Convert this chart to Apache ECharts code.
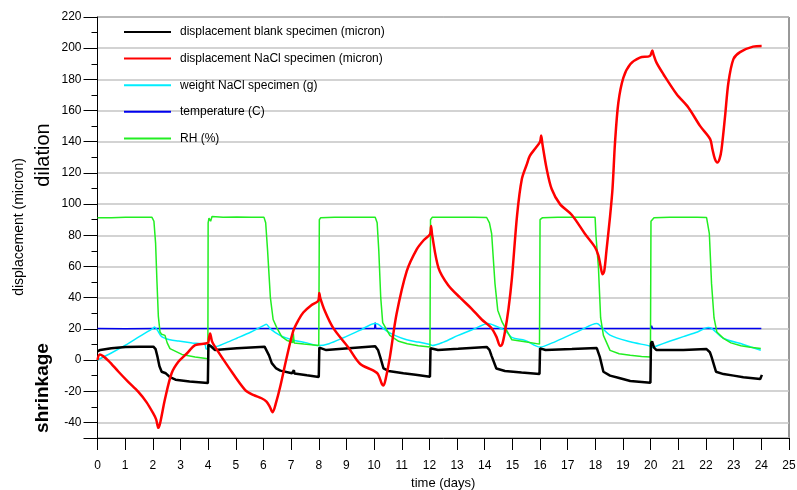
<!DOCTYPE html>
<html><head><meta charset="utf-8">
<script src="https://cdn.jsdelivr.net/npm/echarts@6/dist/echarts.min.js"></script>
<style>html,body{margin:0;padding:0;background:#fff}#c{width:797px;height:490px}</style>
</head><body><div id="c"></div>
<script>
const seriesNames = ['displacement blank specimen (micron)','displacement NaCl specimen (micron)','weight NaCl specimen (g)','temperature (C)','RH (%)'];
const xTitle = 'time (days)';
const yTitle = 'displacement (micron)';

const blankDisp = [[0,5.5],[0.1,6.5],[0.5,7.5],[1.01,8.3],[1.51,8.5],[2.02,8.6],[2.1,7],[2.17,2],[2.24,-4],[2.32,-7.5],[2.47,-8.5],[2.62,-11],[2.82,-12.6],[3.33,-13.8],[3.99,-14.8],[4.01,10],[4.09,9],[4.24,6.5],[5.04,7.5],[6.04,8.6],[6.11,7.4],[6.2,3],[6.3,-2],[6.46,-5.4],[6.61,-6.8],[7.03,-8.5],[7.08,-8.4],[7.1,-6.5],[7.12,-8.6],[7.57,-9.8],[8.0,-10.9],[8.02,8],[8.27,6.4],[9.08,7.5],[10.04,8.8],[10.14,6.5],[10.22,2],[10.34,-5.4],[10.52,-7],[11.06,-8.5],[11.5,-9.5],[12.02,-10.7],[12.04,7.5],[12.31,6.4],[13.04,7.2],[14.07,8.4],[14.17,6.5],[14.24,3],[14.42,-5.4],[14.73,-7],[15.33,-8],[15.98,-8.9],[16.0,7.5],[16.2,6.4],[17.15,7],[18.05,7.7],[18.11,6.5],[18.16,2],[18.29,-7.5],[18.53,-10],[18.86,-11.5],[19.26,-13.4],[19.99,-14.5],[20.01,10.7],[20.05,12],[20.12,8],[20.21,6.4],[21.18,6.4],[22.02,7],[22.14,5],[22.2,2],[22.36,-7.5],[22.63,-9],[23.0,-10],[23.35,-11],[23.96,-12.2],[23.99,-12],[24.02,-9.5]];

const naclDisp = [[0,0],[0.08,3.5],[0.2,2.5],[0.4,-0.5],[0.76,-7.5],[1.11,-14],[1.47,-20.3],[1.77,-27],[2.02,-34.4],[2.12,-38],[2.2,-43.5],[2.27,-40],[2.44,-25],[2.68,-8.5],[2.93,-1],[3.23,4.2],[3.53,9.5],[3.99,11],[4.03,14],[4.07,17],[4.14,12],[4.25,8.4],[4.73,-4.4],[5.34,-19.3],[5.65,-22.5],[5.93,-24.5],[6.11,-26.7],[6.23,-30],[6.33,-33.5],[6.46,-27],[6.6,-17.5],[6.84,1.6],[7.08,18.8],[7.26,25.5],[7.44,30.5],[7.72,35],[7.98,38],[8.02,43],[8.05,40],[8.22,31.4],[8.52,20.6],[9.07,8],[9.49,-2.4],[9.98,-6.8],[10.14,-9],[10.28,-15.3],[10.34,-16.4],[10.42,-12],[10.57,1.7],[10.81,29.3],[11.18,57],[11.54,71],[11.8,77],[12.02,80.7],[12.06,86],[12.1,80],[12.33,59],[12.68,48],[13.11,40],[13.52,33],[13.89,26],[14.22,21],[14.42,15],[14.56,9],[14.63,10],[14.73,18],[14.86,33],[14.98,52],[15.17,93],[15.34,116],[15.53,126],[15.63,131],[15.84,136],[16.0,140],[16.04,144],[16.09,138],[16.24,122.5],[16.42,109.7],[16.72,100],[17.15,93],[17.62,81],[17.99,72.3],[18.11,67],[18.19,60],[18.26,55],[18.32,57],[18.4,70],[18.53,92],[18.62,110],[18.71,139.5],[18.83,165],[19.01,181],[19.26,189.7],[19.61,194],[19.97,195],[20.06,198.5],[20.1,196],[20.21,190.7],[20.46,183.3],[20.94,170.5],[21.36,162],[21.79,150],[22.15,141.7],[22.23,135.3],[22.32,129],[22.41,126.7],[22.49,129],[22.56,135],[22.69,156.6],[22.81,178],[22.99,193],[23.23,197.5],[23.7,201],[24.01,201.4]];

const naclWeight = [[0,0],[0.5,4.5],[1.01,9.5],[1.51,15],[2.02,20.5],[2.06,21.2],[2.17,19],[2.32,15],[2.62,13],[2.93,12.2],[3.43,11],[3.88,10],[3.93,7],[4.0,7.5],[4.03,8.8],[4.24,8.5],[4.64,11],[5.04,14],[5.55,18],[6.05,22.5],[6.1,23],[6.25,20],[6.6,15.8],[7.03,13],[7.57,11],[7.98,9.3],[8.37,10.5],[8.89,14.3],[9.48,19],[10.04,23.5],[10.14,23],[10.46,18.6],[10.79,15.5],[11.18,13],[11.6,11.5],[12.02,10],[12.1,9.3],[12.51,11.5],[13.04,15.8],[13.62,20],[14.12,23.5],[14.22,23],[14.73,19],[14.98,14.5],[15.46,12.6],[16.0,8.3],[16.44,11],[16.91,14.7],[17.45,19],[18.05,23.5],[18.11,23],[18.53,16],[19.26,11.7],[19.97,9.0],[20.07,8.1],[20.21,9],[20.68,12],[21.18,15],[21.69,18],[22.08,20.8],[22.19,20.5],[22.63,14],[23.35,10],[23.98,6.3]];

const temperature = [[0,20.2],[1,20.1],[2,20.3],[3,20.2],[4.0,20.2],[4.03,21.2],[4.08,20.2],[5,20.3],[6,20.2],[7,20.3],[8.02,20.2],[8.07,20.6],[8.12,20.2],[9,20.3],[10.02,20.2],[10.04,24],[10.06,20.2],[11,20.3],[12,20.2],[13,20.3],[14.12,20.2],[14.14,21],[14.17,20.2],[15,20.3],[16,20.2],[17,20.3],[18,20.2],[19,20.3],[20.01,20.2],[20.03,22],[20.07,20.2],[21,20.3],[22,20.2],[23,20.3],[24.0,20.2]];

const relHumidity = [[0,91.3],[0.5,91.3],[1.01,91.5],[1.51,91.6],[1.97,91.5],[2.04,89],[2.1,75],[2.15,50],[2.2,28],[2.26,18],[2.32,16.5],[2.44,15.8],[2.52,11],[2.62,7.3],[3.05,3.6],[3.53,2],[3.99,0.9],[4.0,88],[4.03,91],[4.09,89],[4.14,92],[4.54,91.5],[5.04,91.8],[5.55,91.5],[6.02,91.5],[6.08,88],[6.15,70],[6.25,40],[6.35,26],[6.48,20.8],[6.66,15],[6.86,12.5],[7.06,11.2],[7.08,17],[7.11,11],[7.46,10.3],[8.0,9.3],[8.02,90],[8.07,91.3],[8.57,91.5],[9.08,91.6],[9.58,91.6],[10.04,91.5],[10.11,88],[10.17,70],[10.24,40],[10.31,24],[10.57,15.8],[10.89,12],[11.2,10.4],[11.6,9.2],[12.02,8.4],[12.04,90],[12.1,91.5],[12.61,91.6],[13.11,91.5],[13.62,91.6],[14.07,91.4],[14.17,88],[14.25,81],[14.37,49],[14.47,32],[14.63,24.3],[14.98,13],[15.46,11.7],[15.98,10.2],[16.0,90],[16.09,91.3],[16.64,91.5],[17.15,91.6],[17.65,91.5],[17.99,91.5],[18.02,80],[18.11,59.5],[18.19,27],[18.29,15.8],[18.53,6.2],[18.86,4],[19.26,3.0],[19.67,2.3],[19.99,1.9],[20.01,89],[20.12,91.3],[20.68,91.5],[21.18,91.6],[21.69,91.5],[22.02,91.4],[22.12,81],[22.2,49],[22.29,27],[22.39,18],[22.63,13.9],[22.9,11],[23.26,9.2],[23.6,8.2],[23.98,7.4]];

const lineColors = ['#000000','#ff0000','#00eeff','#0000ee','#22ee22'];
const lineWidths = [2.5,2.5,1.5,1.5,1.5];
const seriesData = [blankDisp, naclDisp, naclWeight, temperature, relHumidity];

const font = "'Liberation Sans', Arial, sans-serif";
const chart = echarts.init(document.getElementById('c'), null, {renderer:'canvas'});

const series = seriesNames.map((n,i)=>({
  name:n, type:'line', data:seriesData[i], symbol:'none', showSymbol:false,
  smooth: (i===1||i===2) ? 0.3 : false,
  lineStyle:{color:lineColors[i], width:lineWidths[i]},
  itemStyle:{color:lineColors[i]},
  z: [5,6,3,2,4][i],
  animation:false
}));

chart.setOption({
  animation:false,
  backgroundColor:'#ffffff',
  grid:{left:97.5,right:8,top:17,bottom:52,show:true,borderColor:'#333',borderWidth:1,outerBoundsMode:'none',containLabel:false},
  legend:{
    orient:'vertical', left:118, top:21, itemWidth:47, itemHeight:14, itemGap:14.6,
    itemStyle:{opacity:0},
    textStyle:{fontSize:12, fontFamily:font, color:'#000', padding:[0,0,0,4]},
    data: seriesNames
  },
  xAxis:{
    type:'value', min:0, max:25, interval:1,
    axisLine:{onZero:false, lineStyle:{color:'#000'}},
    axisTick:{length:12, lineStyle:{color:'#000'}},
    axisLabel:{margin:22, color:'#000', fontSize:12, fontFamily:font},
    splitLine:{show:false},
    name:xTitle, nameLocation:'middle', nameGap:38,
    nameTextStyle:{fontSize:13, fontFamily:font, color:'#000'}
  },
  yAxis:{
    type:'value', min:-50, max:220, splitNumber:13,
    axisLine:{show:true, onZero:false, lineStyle:{color:'#000'}},
    axisTick:{show:true, length:14, lineStyle:{color:'#000'}},
    minorTick:{show:true, splitNumber:2, length:6, lineStyle:{color:'#000'}},
    axisLabel:{margin:16, color:'#000', fontSize:12, fontFamily:font,
      formatter:function(v){return (v%20===0)? String(v) : '';}},
    splitLine:{show:true, lineStyle:{color:'#c4c4c4', width:1.5}}
  },
  graphic:[
    {type:'text', x:19, y:227, rotation:Math.PI/2,
      style:{text:yTitle, font:"14px "+font, fill:'#000', align:'center', verticalAlign:'middle'}},
    {type:'text', x:43, y:155, rotation:Math.PI/2,
      style:{text:'dilation', font:"20px "+font, fill:'#000', align:'center', verticalAlign:'middle'}},
    {type:'text', x:43, y:388, rotation:Math.PI/2,
      style:{text:'shrinkage', font:"bold 19px "+font, fill:'#000', align:'center', verticalAlign:'middle'}}
  ],
  series:series
});
</script></body></html>
